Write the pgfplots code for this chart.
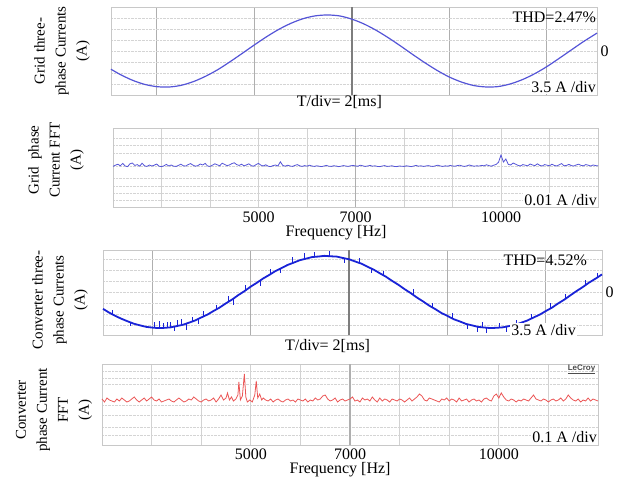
\documentclass[border=0pt]{standalone}
\usepackage{fontspec}
\setmainfont{Liberation Serif}
\setsansfont{Liberation Sans}
\usepackage{pgfplots}
\pgfplotsset{compat=1.18}

\definecolor{boxc}{RGB}{200,200,200}
\definecolor{vgrid}{RGB}{175,175,175}
\definecolor{vgridd}{RGB}{125,125,125}
\definecolor{fgrid}{RGB}{210,210,210}
\definecolor{fgridd}{RGB}{175,175,175}
\definecolor{hgrid}{RGB}{212,212,212}
\definecolor{gridblue}{RGB}{85,85,215}
\definecolor{convblue}{RGB}{25,35,215}
\definecolor{convred}{RGB}{235,85,85}

\pgfplotsset{
  scopebox/.style={
    scale only axis, anchor=north west, clip=false,
    axis line style={draw=boxc, line width=0.6bp},
    major tick length=0pt, minor tick length=0pt,
    xmajorgrids, ymajorgrids,
    every axis y grid/.append style={draw=hgrid, densely dotted, line width=0.6bp},
    /pgf/number format/assume math mode=true,
    ticklabel style={font=\fontsize{16bp}{18bp}\selectfont},
    label style={font=\fontsize{16bp}{18bp}\selectfont},
  },
  timebox/.style={scopebox,
    xtick={0,2,4,6,8}, xticklabels={},
    every axis x grid/.append style={draw=vgrid, line width=0.9bp},
    ytick={-5.25,-3.5,-1.75,0,1.75,3.5,5.25}, yticklabels={,,,0,,,},
    yticklabel pos=right,
  },
  fftbox/.style={scopebox,
    xmin=2000, xmax=12000, scaled x ticks=false,
    xtick={2000,3000,...,12000}, xticklabels={,,,5000,,7000,,,10000,,},
    every axis x grid/.append style={draw=fgrid, line width=0.8bp},
    xticklabel style={anchor=center},
    yticklabels={},
  },
}

\begin{document}
\begin{tikzpicture}
\path[use as bounding box] (0,0) rectangle (619bp,-482bp);

% ---------- grid three-phase currents
\begin{axis}[timebox, at={(111bp,-7bp)}, width=486bp, height=88bp,
  xmin=-0.94, xmax=9.03, ymin=-7, ymax=7,
  xlabel={T/div= 2[ms]},
  xlabel style={at={(axis description cs:0.47,0)}, anchor=center, yshift=-7bp}]
\draw[vgridd, line width=1.6bp] (axis cs:4,-7) -- (axis cs:4,7);
\addplot[gridblue, line width=1.2bp, smooth] coordinates {
 (-0.94,-2.90) (-0.75,-3.74) (-0.5,-4.65) (-0.25,-5.31) (0,-5.67) (0.25,-5.73)
 (0.5,-5.46) (0.75,-4.87) (1.0,-4.02) (1.25,-2.97) (1.5,-1.72) (1.75,-0.39)
 (2.0,0.96) (2.25,2.26) (2.5,3.43) (2.75,4.40) (3.0,5.14) (3.25,5.59)
 (3.5,5.73) (3.75,5.58) (4.0,5.07) (4.25,4.30) (4.5,3.29) (4.75,2.10)
 (5.0,0.80) (5.25,-0.56) (5.5,-1.87) (5.75,-3.09) (6.0,-4.14) (6.25,-4.94)
 (6.5,-5.49) (6.75,-5.72) (7.0,-5.66) (7.25,-5.24) (7.5,-4.55) (7.75,-3.62)
 (8.0,-2.49) (8.25,-1.19) (8.5,0.15) (8.75,1.48) (9.03,2.85)};
\node[anchor=east, inner sep=0pt, font=\fontsize{16bp}{18bp}\selectfont] at (rel axis cs:0.998,0.886) {THD=2.47\%};
\node[anchor=east, fill=white, inner sep=1bp, font=\fontsize{16bp}{18bp}\selectfont] at (rel axis cs:1,0.09) {3.5 A /div};
\end{axis}

% ---------- grid phase current FFT
\begin{axis}[fftbox, at={(113bp,-128bp)}, width=485bp, height=79bp,
  ymin=0, ymax=39.5, ytick={3.5,7,10.5,14.5,20.5,27,31,34.5},
  xticklabel style={yshift=-10bp},
  xlabel={Frequency [Hz]},
  xlabel style={at={(axis description cs:0.46,0)}, anchor=center, yshift=-26bp}]
\draw[fgridd, line width=1.2bp] (axis cs:7000,0) -- (axis cs:7000,39.5);
\addplot[gridblue, line width=0.8bp] coordinates {
 (2000,20.3) (2050,20.9) (2100,21.4) (2150,20.6) (2200,21.8) (2250,20.5) (2300,20.2) (2350,21.6) (2400,22.0) (2450,20.8)
 (2500,21.2) (2550,20.4) (2600,21.9) (2650,20.6) (2700,20.3) (2750,21.0) (2800,20.5) (2850,20.9) (2900,21.5) (2950,20.4)
 (3000,20.2) (3050,20.6) (3100,21.3) (3150,20.5) (3200,21.0) (3250,20.4) (3300,20.3) (3350,20.8) (3400,21.4) (3450,20.6)
 (3500,20.5) (3550,21.2) (3600,21.7) (3650,20.9) (3700,20.4) (3750,20.7) (3800,21.5) (3850,21.0) (3900,21.8) (3950,20.5)
 (4000,20.3) (4050,20.9) (4100,21.6) (4150,21.1) (4200,20.6) (4250,21.9) (4300,21.3) (4350,20.7) (4400,21.0) (4450,21.7)
 (4500,22.1) (4550,21.2) (4600,20.8) (4650,21.4) (4700,20.6) (4750,21.0) (4800,21.6) (4850,20.7) (4900,20.4) (4950,21.2)
 (5000,21.8) (5050,20.9) (5100,20.5) (5150,21.1) (5200,20.4) (5250,20.2) (5300,20.7) (5350,21.0) (5400,20.5) (5450,22.6)
 (5500,20.8) (5550,20.4) (5600,20.9) (5650,20.5) (5700,20.3) (5750,20.8) (5800,21.2) (5850,20.6) (5900,20.3) (5950,20.7)
 (6000,20.4) (6050,20.9) (6100,20.5) (6150,20.3) (6200,20.6) (6250,20.4) (6300,20.2) (6350,20.5) (6400,20.8) (6450,20.4)
 (6500,20.3) (6550,20.6) (6600,20.5) (6650,20.2) (6700,20.4) (6750,20.7) (6800,20.5) (6850,20.3) (6900,20.6) (6950,20.8)
 (7000,20.5) (7050,20.4) (7100,20.9) (7150,20.6) (7200,20.3) (7250,20.5) (7300,20.8) (7350,20.4) (7400,20.6) (7450,20.3)
 (7500,20.2) (7550,20.5) (7600,20.7) (7650,20.3) (7700,20.4) (7750,20.6) (7800,20.3) (7850,20.2) (7900,20.5) (7950,20.4)
 (8000,20.3) (8050,20.6) (8100,20.4) (8150,20.2) (8200,20.5) (8250,20.8) (8300,20.4) (8350,20.6) (8400,20.3) (8450,20.5)
 (8500,20.7) (8550,20.4) (8600,20.3) (8650,20.6) (8700,20.9) (8750,20.5) (8800,20.3) (8850,20.6) (8900,20.4) (8950,20.8)
 (9000,20.5) (9050,20.4) (9100,20.7) (9150,20.9) (9200,20.5) (9250,20.3) (9300,20.6) (9350,21.0) (9400,20.6) (9450,20.4)
 (9500,20.6) (9550,20.5) (9600,20.8) (9650,20.6) (9700,21.1) (9750,20.7) (9800,20.4) (9850,20.9) (9900,21.3) (9950,22.4)
 (10000,26.0) (10050,22.5) (10100,24.0) (10150,21.3) (10200,21.0) (10250,22.0) (10300,21.4) (10350,20.8) (10400,20.5) (10450,21.2)
 (10500,20.9) (10550,20.6) (10600,21.5) (10650,21.0) (10700,20.7) (10750,21.6) (10800,20.8) (10850,20.5) (10900,21.2) (10950,20.9)
 (11000,20.6) (11050,21.4) (11100,20.8) (11150,20.5) (11200,21.1) (11250,21.7) (11300,20.6) (11350,20.8) (11400,21.3) (11450,20.7)
 (11500,20.5) (11550,21.0) (11600,21.4) (11650,20.8) (11700,20.6) (11750,21.2) (11800,20.9) (11850,20.5) (11900,21.0) (11950,20.7)
 (12000,20.6)};
\node[anchor=east, fill=white, inner sep=1bp, font=\fontsize{16bp}{18bp}\selectfont] at (rel axis cs:1,0.09) {0.01 A /div};
\end{axis}

% ---------- converter three-phase currents
\begin{axis}[timebox, at={(103bp,-250bp)}, width=499bp, height=85bp,
  xmin=-1.0, xmax=9.14, ymin=-6.84, ymax=6.68,
  xlabel={T/div= 2[ms]},
  xlabel style={at={(axis description cs:0.45,0)}, anchor=center, yshift=-11bp}]
\draw[vgridd, line width=1.6bp] (axis cs:4,-6.84) -- (axis cs:4,6.68);
% measured waveform
\addplot[convblue, line width=1.8bp] coordinates {
 (-1.0,-2.68) (-0.875,-3.28) (-0.75,-3.80) (-0.625,-4.26) (-0.5,-4.66) (-0.375,-5.04)
 (-0.25,-5.30) (-0.125,-5.54) (0,-5.66) (0.125,-5.74) (0.25,-5.70) (0.375,-5.62)
 (0.5,-5.42) (0.625,-5.21) (0.75,-4.87) (0.875,-4.52) (1.0,-4.04) (1.125,-3.58)
 (1.25,-3.00) (1.375,-2.45) (1.5,-1.79) (1.625,-1.19) (1.75,-0.49) (1.875,0.14)
 (2.0,0.85) (2.125,1.46) (2.25,2.13) (2.375,2.70) (2.5,3.31) (2.625,3.79)
 (2.75,4.30) (2.875,4.67) (3.0,5.06) (3.125,5.30) (3.25,5.56) (3.375,5.64)
 (3.5,5.75) (3.625,5.68) (3.75,5.63) (3.875,5.41) (4.0,5.21) (4.125,4.85)
 (4.25,4.51) (4.375,4.02) (4.5,3.56) (4.625,2.98) (4.75,2.43) (4.875,1.77)
 (5.0,1.16) (5.125,0.47) (5.25,-0.16) (5.375,-0.86) (5.5,-1.48) (5.625,-2.15)
 (5.75,-2.71) (5.875,-3.33) (6.0,-3.81) (6.125,-4.32) (6.25,-4.68) (6.375,-5.07)
 (6.5,-5.31) (6.625,-5.55) (6.75,-5.65) (6.875,-5.74) (7.0,-5.69) (7.125,-5.62)
 (7.25,-5.42) (7.375,-5.22) (7.5,-4.88) (7.625,-4.53) (7.75,-4.05) (7.875,-3.60)
 (8.0,-3.02) (8.125,-2.48) (8.25,-1.81) (8.375,-1.21) (8.5,-0.51) (8.625,0.16)
 (8.75,0.79) (8.875,1.49) (9.0,2.08) (9.14,2.80)};
% switching spikes
\addplot[convblue, line width=0.8bp, unbounded coords=jump] coordinates {
 (-0.8,-3.55) (-0.8,-2.9) (-0.8,nan) (-0.45,-4.8) (-0.45,-5.4) (-0.45,nan)
 (0.05,-5.7) (0.05,-4.7) (0.05,nan) (0.15,-5.74) (0.15,-4.6) (0.15,nan)
 (0.22,-5.72) (0.22,-4.9) (0.22,nan) (0.3,-5.67) (0.3,-4.8) (0.3,nan)
 (0.36,-5.63) (0.36,-4.7) (0.36,nan) (0.45,-5.5) (0.45,-6.2) (0.45,nan)
 (0.52,-5.38) (0.52,-4.5) (0.52,nan) (0.6,-5.25) (0.6,-4.3) (0.6,nan)
 (0.7,-5.0) (0.7,-6.0) (0.7,nan) (0.82,-4.7) (0.82,-3.9) (0.82,nan)
 (0.93,-4.3) (0.93,-5.1) (0.93,nan) (1.05,-3.86) (1.05,-3.0) (1.05,nan)
 (1.3,-2.8) (1.3,-2.0) (1.3,nan) (1.55,-1.55) (1.55,-0.6) (1.55,nan)
 (1.65,-1.05) (1.65,-2.0) (1.65,nan) (1.9,0.27) (1.9,1.1) (1.9,nan)
 (2.2,1.86) (2.2,1.0) (2.2,nan) (2.4,2.82) (2.4,3.7) (2.4,nan)
 (2.6,3.7) (2.6,3.0) (2.6,nan) (2.85,4.6) (2.85,5.5) (2.85,nan)
 (3.1,5.26) (3.1,6.2) (3.1,nan) (3.3,5.6) (3.3,6.4) (3.3,nan)
 (3.6,5.7) (3.6,6.5) (3.6,nan) (3.9,5.38) (3.9,4.6) (3.9,nan)
 (4.2,4.65) (4.2,5.4) (4.2,nan) (4.45,3.75) (4.45,3.1) (4.45,nan)
 (4.7,2.65) (4.7,3.4) (4.7,nan) (5.3,-0.4) (5.3,0.4) (5.3,nan)
 (5.7,-2.5) (5.7,-1.8) (5.7,nan) (6.1,-4.22) (6.1,-3.4) (6.1,nan)
 (6.4,-5.12) (6.4,-5.9) (6.4,nan) (6.6,-5.5) (6.6,-6.3) (6.6,nan)
 (6.7,-5.62) (6.7,-4.8) (6.7,nan) (6.8,-5.7) (6.8,-6.5) (6.8,nan)
 (7.05,-5.67) (7.05,-4.9) (7.05,nan) (7.2,-5.5) (7.2,-6.3) (7.2,nan)
 (7.4,-5.15) (7.4,-4.4) (7.4,nan) (7.7,-4.25) (7.7,-3.5) (7.7,nan)
 (8.1,-2.6) (8.1,-1.8) (8.1,nan) (8.4,-1.08) (8.4,-0.3) (8.4,nan)
 (8.8,1.07) (8.8,1.9) (8.8,nan) (9.05,2.35) (9.05,3.1)};
\node[anchor=east, inner sep=0pt, font=\fontsize{16bp}{18bp}\selectfont] at (rel axis cs:0.97,0.88) {THD=4.52\%};
\node[anchor=east, fill=white, inner sep=1bp, font=\fontsize{16bp}{18bp}\selectfont] at (rel axis cs:0.95,0.06) {3.5 A /div};
\end{axis}

% ---------- converter phase current FFT
\begin{axis}[fftbox, at={(102bp,-364bp)}, width=496bp, height=81bp,
  ymin=0, ymax=0.405, ytick={0.05,0.09,0.15,0.2,0.305,0.335,0.37},
  xticklabel style={yshift=-9bp},
  xlabel={Frequency [Hz]},
  xlabel style={at={(axis description cs:0.48,0)}, anchor=center, yshift=-25bp}]
\draw[fgridd, line width=1.2bp] (axis cs:7000,0) -- (axis cs:7000,0.405);
\addplot[convred, line width=0.8bp] coordinates {
 (2000,0.230) (2050,0.215) (2100,0.235) (2150,0.225) (2200,0.220) (2250,0.215) (2300,0.230) (2350,0.220) (2400,0.235) (2450,0.225)
 (2500,0.215) (2550,0.220) (2600,0.230) (2650,0.240) (2700,0.225) (2750,0.215) (2800,0.225) (2850,0.235) (2900,0.220) (2950,0.230)
 (3000,0.240) (3050,0.225) (3100,0.220) (3150,0.230) (3200,0.215) (3250,0.220) (3300,0.225) (3350,0.230) (3400,0.220) (3450,0.215)
 (3500,0.225) (3550,0.235) (3600,0.225) (3650,0.215) (3700,0.220) (3750,0.230) (3800,0.225) (3850,0.240) (3900,0.230) (3950,0.220)
 (4000,0.215) (4050,0.225) (4100,0.230) (4150,0.220) (4200,0.225) (4250,0.235) (4300,0.215) (4350,0.230) (4400,0.250) (4450,0.225)
 (4500,0.235) (4530,0.260) (4570,0.225) (4610,0.240) (4650,0.220) (4700,0.230) (4740,0.250) (4760,0.315) (4790,0.225) (4830,0.245)
 (4870,0.355) (4900,0.240) (4930,0.215) (4980,0.225) (5030,0.215) (5080,0.250) (5110,0.320) (5140,0.235) (5180,0.255) (5220,0.225)
 (5250,0.235) (5300,0.225) (5350,0.220) (5400,0.230) (5450,0.215)
 (5500,0.225) (5550,0.230) (5600,0.220) (5650,0.215) (5700,0.225) (5750,0.230) (5800,0.220) (5850,0.225) (5900,0.215) (5950,0.230)
 (6000,0.225) (6050,0.220) (6100,0.230) (6150,0.215) (6200,0.225) (6250,0.220) (6300,0.235) (6350,0.225) (6400,0.230) (6450,0.245)
 (6500,0.250) (6550,0.230) (6600,0.220) (6650,0.225) (6700,0.235) (6750,0.215) (6800,0.225) (6850,0.230) (6900,0.220) (6950,0.225)
 (7000,0.230) (7050,0.240) (7100,0.220) (7150,0.225) (7200,0.215) (7250,0.235) (7300,0.225) (7350,0.230) (7400,0.220) (7450,0.240)
 (7500,0.225) (7550,0.215) (7600,0.235) (7650,0.220) (7700,0.230) (7750,0.225) (7800,0.215) (7850,0.230) (7900,0.225) (7950,0.220)
 (8000,0.230) (8050,0.225) (8100,0.215) (8150,0.225) (8200,0.235) (8250,0.220) (8300,0.230) (8350,0.240) (8400,0.255) (8450,0.245)
 (8500,0.225) (8550,0.220) (8600,0.235) (8650,0.230) (8700,0.225) (8750,0.220) (8800,0.215) (8850,0.230) (8900,0.225) (8950,0.235)
 (9000,0.220) (9050,0.230) (9100,0.225) (9150,0.215) (9200,0.235) (9250,0.220) (9300,0.225) (9350,0.230) (9400,0.215) (9450,0.225)
 (9500,0.230) (9550,0.220) (9600,0.225) (9650,0.215) (9700,0.230) (9750,0.235) (9800,0.225) (9850,0.220) (9900,0.245) (9950,0.255)
 (10000,0.235) (10050,0.260) (10100,0.240) (10150,0.225) (10200,0.220) (10250,0.230) (10300,0.225) (10350,0.215) (10400,0.225) (10450,0.220)
 (10500,0.230) (10550,0.225) (10600,0.220) (10650,0.235) (10700,0.250) (10750,0.230) (10800,0.225) (10850,0.220) (10900,0.230) (10950,0.225)
 (11000,0.215) (11050,0.225) (11100,0.230) (11150,0.220) (11200,0.225) (11250,0.235) (11300,0.220) (11350,0.230) (11400,0.250) (11450,0.235)
 (11500,0.225) (11550,0.220) (11600,0.230) (11650,0.215) (11700,0.225) (11750,0.220) (11800,0.235) (11850,0.220) (11900,0.230) (11950,0.225)
 (12000,0.220)};
\node[anchor=east, inner sep=0pt, font=\sffamily\bfseries\fontsize{8bp}{9bp}\selectfont, text=black!70] at (rel axis cs:0.995,0.93) {\underline{LeCroy}};
\node[anchor=east, fill=white, inner sep=1bp, font=\fontsize{16bp}{18bp}\selectfont] at (rel axis cs:1,0.1) {0.1 A /div};
\end{axis}

% ---------- vertical axis titles
\begin{scope}[every node/.style={rotate=90, align=center, font=\fontsize{15bp}{21bp}\selectfont}]
\node at (62bp,-51bp) {Grid three-\\phase Currents\\(A)};
\node at (56bp,-160bp) {Grid\ \ phase\\Current FFT\\(A)};
\node at (60bp,-300bp) {Converter three-\\phase Currents\\(A)};
\node at (54bp,-410bp) {Converter\\phase Current\\FFT\\(A)};
\end{scope}
\end{tikzpicture}
\end{document}
